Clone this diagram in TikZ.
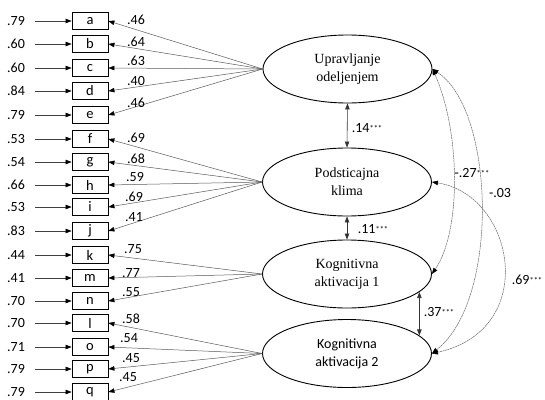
\documentclass[tikz,border=0pt]{standalone}
\usepackage{fontspec}
\setmainfont{Liberation Serif}
\newfontfamily\calib{Carlito}
\usetikzlibrary{shapes.geometric,arrows.meta}
\newcommand{\stars}{\raisebox{0.8pt}{\fontsize{8.5}{8.5}\selectfont ***}}
\begin{document}
\begin{tikzpicture}[x=1pt,y=-1pt,
  ind/.style={draw, line width=0.8pt, minimum width=36pt, minimum height=17pt, inner sep=0pt, font=\calib\fontsize{14.5}{14.5}\selectfont},
  lat/.style={draw, ellipse, line width=0.9pt, minimum width=169pt, minimum height=68pt, inner sep=0pt, align=center, font=\fontsize{14}{18}\selectfont},
  num/.style={font=\calib\fontsize{14}{14}\selectfont, inner sep=0pt},
  load/.style={draw=gray!70!black, line width=0.5pt, -{Triangle[length=6pt,width=4.5pt,color=black]}},
  err/.style={draw=black!75, line width=0.6pt, -{Triangle[length=6pt,width=4.5pt,color=black]}},
  cov/.style={draw=gray!80!black, line width=0.5pt, dash pattern=on 2pt off 0.6pt, {Triangle[length=6pt,width=4.5pt,color=black]}-{Triangle[length=6pt,width=4.5pt,color=black]}},
  dbl/.style={draw=black!80, line width=0.6pt, {Triangle[length=6pt,width=4.5pt]}-{Triangle[length=6pt,width=4.5pt]}}
]
\useasboundingbox (0,0) rectangle (545,399);

% latent variables
\node[lat] (U) at (347.5,69) {Upravljanje\\odeljenjem};
\node[lat] (P) at (347,182) {Podsticajna\\klima};
\node[lat] (K1) at (347,274) {Kognitivna\\aktivacija 1};
\node[lat, font=\calib\fontsize{14}{18}\selectfont] (K2) at (347,353.5) {Kognitivna\\aktivacija 2};

% indicators: name/y/error/loading/label-y/latent/label-x
\foreach \n/\y/\e/\l/\ly/\lat/\lx in {
  a/21/.79/.46/20/U/136, b/44/.60/.64/42/U/136, c/68/.60/.63/61/U/136, d/91/.84/.40/81/U/136, e/115/.79/.46/103/U/136,
  f/139/.53/.69/138/P/136, g/162/.54/.68/159/P/136, h/185/.66/.59/177/P/135, i/207/.53/.69/197/P/134, j/231/.83/.41/217/P/134,
  k/255/.44/.75/249/K1/133, m/278/.41/.77/273/K1/131, n/301/.70/.55/292/K1/131,
  l/323/.70/.58/319/K2/131, o/347/.71/.54/338/K2/129, p/369/.79/.45/358/K2/131, q/392/.79/.45/377/K2/128}{
  \node[ind] (\n) at (90,\y) {\n};
  \coordinate (s\n) at (35,\y);
  \node[num] (e\n) at (16,\y) {\e};
  \draw[err] (s\n) -- (\n.west);
  \draw[load] (\lat.west) -- (\n.east);
  \node[num] (l\n) at (\lx,\ly) {\l};
}

% structural correlations
\draw[dbl] (U.south) -- (P.north);
\node[num] (r1) at (367,128) {.14\stars};
\draw[dbl] (P.south) -- (K1.north);
\node[num] (r2) at (373,229) {.11\stars};
\draw[dbl] (K1.-14) -- (K2.14);
\node[num] (r3) at (439,312) {.37\stars};

% curved covariances
\draw[cov] (U.east) .. controls (460,130) and (462,230) .. (K1.east);
\draw[cov] (U.east) .. controls (495,110) and (500,300) .. (K2.east);
\draw[cov] (P.east) .. controls (515,195) and (540,330) .. (K2.east);
\node[num] (r4) at (472,173) {-.27\stars};
\node[num] (r5) at (500,193) {-.03};
\node[num] (r6) at (527,280) {.69\stars};
\end{tikzpicture}
\end{document}
